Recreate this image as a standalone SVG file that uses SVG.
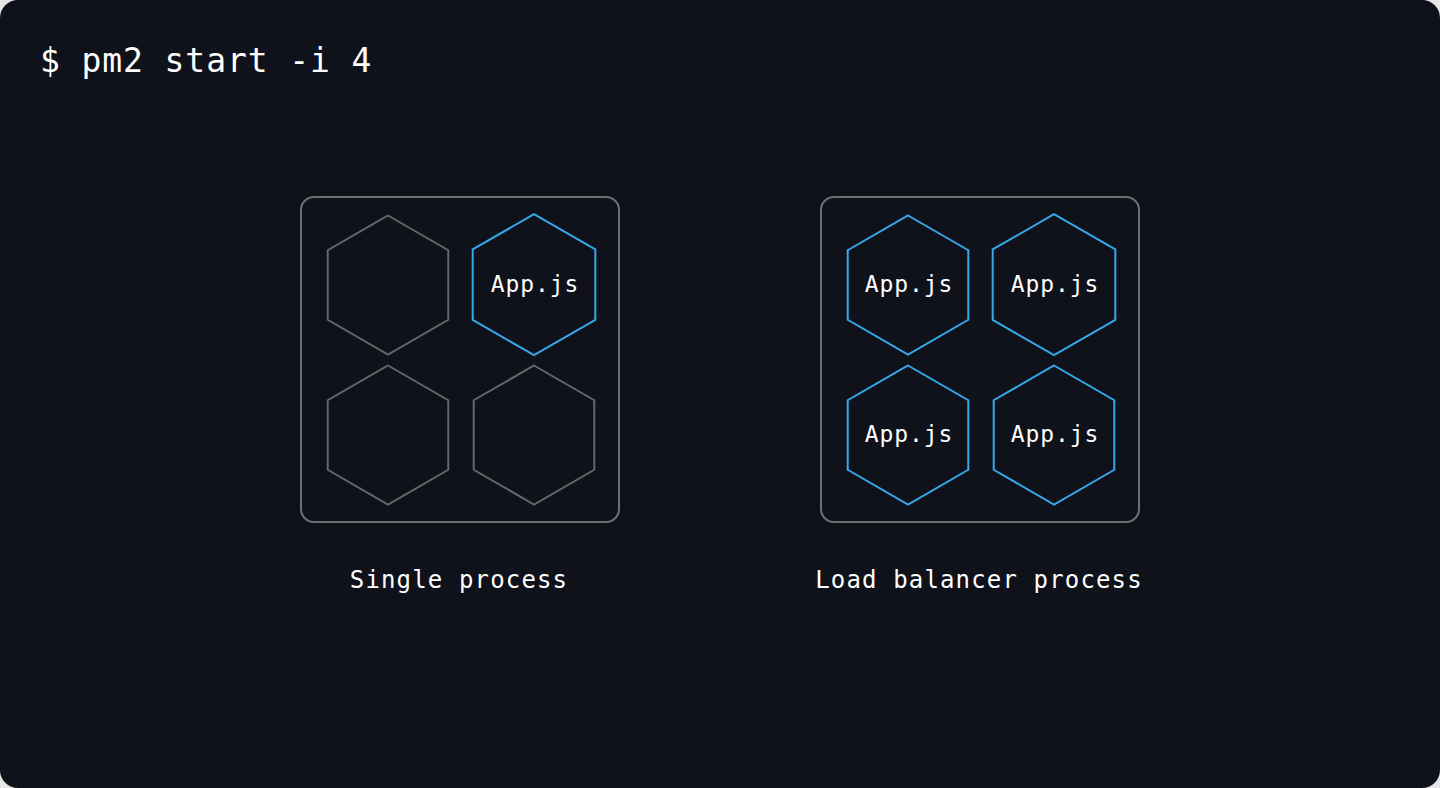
<svg xmlns="http://www.w3.org/2000/svg" width="1440" height="788" viewBox="0 0 1440 788">
<style>
.mono{font-family:"DejaVu Sans Mono","Liberation Mono",monospace;fill:#ffffff}
.title{font-size:33px;letter-spacing:0.9px}
.app{font-size:23px;letter-spacing:0.9px}
.label{font-size:24px;letter-spacing:1.15px}
.box{fill:none;stroke:#707070;stroke-width:2}
.hexg{fill:none;stroke:#666666;stroke-width:2}
.hexb{fill:none;stroke:#34a8e8;stroke-width:2}
</style>
<defs>
<polygon id="hs" points="0,-69.5 60.3,-34.75 60.3,34.75 0,69.5 -60.3,34.75 -60.3,-34.75"/>
<polygon id="hl" points="0,-70.5 61.3,-35.25 61.3,35.25 0,70.5 -61.3,35.25 -61.3,-35.25"/>
</defs>
<rect x="0" y="0" width="1440" height="788" fill="#e6e6e6"/>
<rect x="0" y="0" width="1440" height="788" rx="18" fill="#0f121a"/>
<text class="mono title" x="40" y="72">$ pm2 start -i 4</text>
<g id="single-process">
<rect class="box" x="301" y="197" width="318" height="325" rx="13"/>
<g id="sp-hex1"><use href="#hs" class="hexg" x="388" y="285"/></g>
<g id="sp-hex2"><use href="#hl" class="hexb" x="534" y="284.7"/><text class="mono app" x="535" y="292" text-anchor="middle">App.js</text></g>
<g id="sp-hex3"><use href="#hs" class="hexg" x="388" y="435"/></g>
<g id="sp-hex4"><use href="#hs" class="hexg" x="534" y="435"/></g>
<text class="mono label" x="459" y="588" text-anchor="middle">Single process</text>
</g>
<g id="load-balancer">
<rect class="box" x="821" y="197" width="318" height="325" rx="13"/>
<g id="lb-hex1"><use href="#hs" class="hexb" x="908" y="285"/><text class="mono app" x="909" y="292" text-anchor="middle">App.js</text></g>
<g id="lb-hex2"><use href="#hl" class="hexb" x="1054" y="284.7"/><text class="mono app" x="1055" y="292" text-anchor="middle">App.js</text></g>
<g id="lb-hex3"><use href="#hs" class="hexb" x="908" y="435"/><text class="mono app" x="909" y="442" text-anchor="middle">App.js</text></g>
<g id="lb-hex4"><use href="#hs" class="hexb" x="1054" y="435"/><text class="mono app" x="1055" y="442" text-anchor="middle">App.js</text></g>
<text class="mono label" x="979" y="588" text-anchor="middle">Load balancer process</text>
</g>
<g id="connectors"></g>
</svg>
